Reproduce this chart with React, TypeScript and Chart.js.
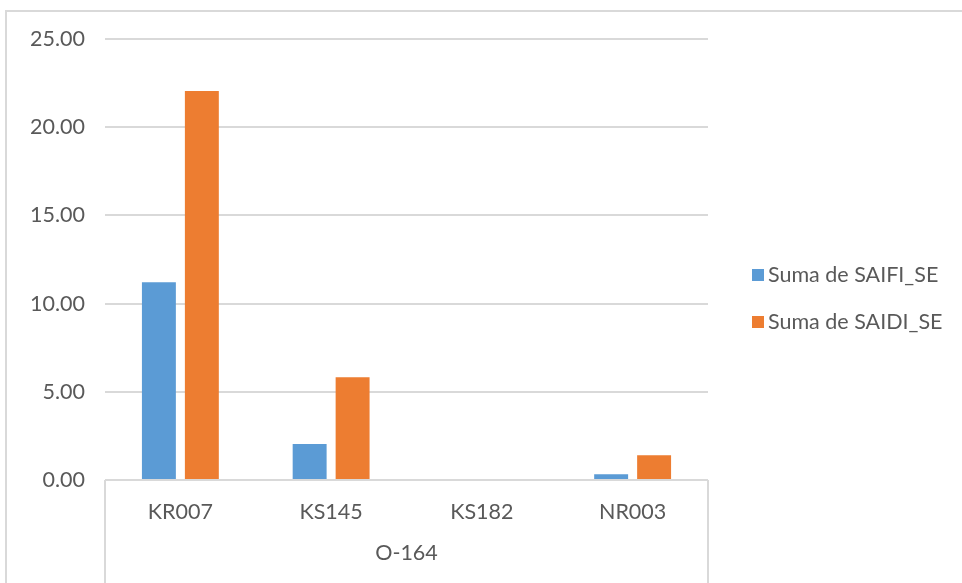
import React, { useEffect, useRef } from "react";
import { Chart, registerables } from "chart.js";

Chart.register(...registerables);

const categories = ["KR007", "KS145", "KS182", "NR003"];
const groupLabel = "O-164";
const saifi = [11.21, 2.04, 0, 0.32];
const saidi = [22.05, 5.82, 0, 1.4];
const seriesNames = ["Suma de SAIFI_SE", "Suma de SAIDI_SE"];
const seriesColors = ["#5B9BD5", "#ED7D31"];

const FONT = "Lato, 'Open Sans', sans-serif";
const FS = 21.5;
const TEXT = "#595959";
const LINE = "#d9d9d9";

const extrasPlugin = {
  id: "extras",
  afterDraw(chart: any) {
    const { ctx, chartArea } = chart;
    const H = chart.height;
    ctx.save();
    ctx.strokeStyle = LINE;
    ctx.lineWidth = 2;
    ctx.beginPath();
    ctx.moveTo(chartArea.left, chartArea.bottom);
    ctx.lineTo(chartArea.right, chartArea.bottom);
    ctx.moveTo(chartArea.left, chartArea.bottom);
    ctx.lineTo(chartArea.left, H);
    ctx.moveTo(chartArea.right, chartArea.bottom);
    ctx.lineTo(chartArea.right, H);
    ctx.stroke();
    ctx.fillStyle = TEXT;
    ctx.font = `${FS}px ${FONT}`;
    ctx.textAlign = "center";
    ctx.textBaseline = "middle";
    ctx.fillText(groupLabel, (chartArea.left + chartArea.right) / 2, 553);
    const ys = [275, 322];
    chart.data.datasets.forEach((ds: any, i: number) => {
      ctx.fillStyle = ds.backgroundColor;
      ctx.fillRect(752, ys[i] - 6, 12, 12);
      ctx.fillStyle = TEXT;
      ctx.textAlign = "left";
      ctx.font = `${FS}px ${FONT}`;
      ctx.fillText(ds.label, 768, ys[i]);
    });
    ctx.restore();
  },
};

export default function App() {
  const ref = useRef<HTMLCanvasElement>(null);
  useEffect(() => {
    const chart = new Chart(ref.current!, {
      type: "bar",
      data: {
        labels: categories,
        datasets: [
          { label: seriesNames[0], data: saifi, backgroundColor: seriesColors[0] },
          { label: seriesNames[1], data: saidi, backgroundColor: seriesColors[1] },
        ],
      },
      options: {
        animation: false,
        responsive: false,
        maintainAspectRatio: false,
        layout: { padding: { left: 0, right: 254, top: 39, bottom: 0 } },
        datasets: { bar: { categoryPercentage: 0.57, barPercentage: 0.79 } },
        plugins: { legend: { display: false }, tooltip: { enabled: false } },
        scales: {
          x: {
            grid: { display: false, drawTicks: false },
            border: { display: false },
            ticks: { color: TEXT, font: { family: FONT, size: FS }, padding: 19, maxRotation: 0 },
            afterFit(scale: any) {
              scale.height = 103;
            },
          },
          y: {
            min: 0,
            max: 25,
            ticks: {
              stepSize: 5,
              color: TEXT,
              font: { family: FONT, size: FS },
              padding: 20,
              callback: (v: any) => Number(v).toFixed(2),
            },
            grid: { color: LINE, lineWidth: 2, drawTicks: false },
            border: { display: false },
            afterFit(scale: any) {
              scale.width = 105;
            },
          },
        },
      },
      plugins: [extrasPlugin],
    });
    return () => chart.destroy();
  }, []);
  return (
    <div style={{ position: "fixed", left: 0, top: 0, width: 962, height: 583, background: "#fff" }}>
      <div
        style={{
          position: "absolute",
          left: 5,
          top: 10,
          width: 1000,
          height: 600,
          borderLeft: `2px solid ${LINE}`,
          borderTop: `2px solid ${LINE}`,
        }}
      />
      <canvas ref={ref} width={962} height={583} style={{ position: "absolute", left: 0, top: 0 }} />
    </div>
  );
}
